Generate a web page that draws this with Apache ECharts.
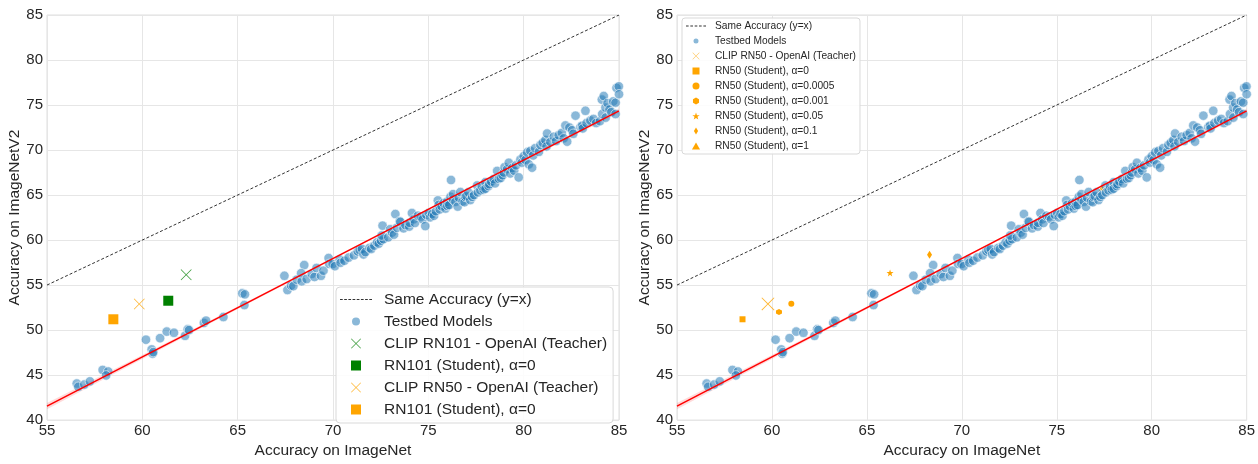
<!DOCTYPE html>
<html>
<head>
<meta charset="utf-8">
<script src="https://cdn.jsdelivr.net/npm/echarts@6/dist/echarts.min.js"></script>
<style>
  html, body { margin: 0; padding: 0; background: #fff; }
  #chart { width: 1258px; height: 464px; }
</style>
</head>
<body>
<div id="chart"></div>
<script>
// ---- data ----
const identityLine = [[55, 55], [85, 85]];
const fitLine = [[55, 41.55], [85, 74.35]];
const bandX = [55, 60, 65, 70, 75, 80, 85];
const bandLow = [41.2, 46.8, 52.35, 57.85, 63.35, 68.78, 74.1];
const bandHigh = [41.9, 47.24, 52.63, 58.07, 63.51, 69.02, 74.6];

// testbed models (ImageNet acc, ImageNetV2 acc)
const testbed = [
  [56.56,44.06],[56.64,43.7],[56.96,43.95],[57.25,44.3],[57.92,45.57],[58.21,45.4],[58.1,44.96],
  [60.19,48.93],[60.49,47.85],[60.54,47.37],[60.57,47.55],[60.93,49.1],[61.28,49.83],[61.66,49.7],
  [62.24,49.36],[62.38,50.08],[62.45,50.0],[63.23,50.8],[63.34,51.05],[64.25,51.45],
  [65.24,54.08],[65.38,53.97],[65.35,52.78],
  [67.45,56.03],[67.61,54.45],[67.8,54.95],[67.92,54.88],[68.1,55.6],[68.36,55.42],[68.49,57.22],[68.33,56.32],
  [68.62,55.67],[68.89,56.24],[69.03,55.9],[69.14,56.9],[69.37,56.03],[69.5,56.6],[69.77,58.0],[69.8,57.35],
  [69.98,57.33],[70.1,57.1],[70.35,57.84],[70.4,57.48],[70.6,57.7],[70.82,58.05],[71.1,58.3],[71.3,58.74],
  [71.4,58.9],[71.52,59.02],[71.6,58.4],[71.7,58.66],[71.92,59.13],[72.0,59.0],[72.17,59.38],[72.31,59.75],
  [72.4,59.6],[72.52,59.93],[72.65,60.1],[72.6,61.6],[72.55,60.5],[72.9,60.3],
  [73.0,61.2],[73.1,60.83],[73.2,60.6],[73.27,62.89],[73.36,61.37],[73.5,62.09],[73.53,62.02],[73.7,61.3],
  [73.8,61.66],[74.0,61.5],[74.02,61.92],[74.14,63.0],[74.23,62.3],[74.3,61.9],[74.45,62.7],[74.6,62.6],
  [74.7,62.3],[74.84,61.55],[74.9,62.8],[75.02,63.0],[75.1,62.52],[75.2,62.9],[75.3,62.7],[75.4,63.2],
  [75.5,64.4],[75.54,63.9],[75.6,63.4],[75.7,63.75],[75.8,64.1],[75.9,63.5],[75.98,64.25],[76.0,63.8],
  [76.1,63.9],[76.16,64.8],[76.19,66.67],[76.3,64.5],[76.3,65.1],[76.42,64.25],[76.54,63.72],[76.6,64.7],
  [76.68,65.33],[76.8,64.3],[76.9,64.2],[76.94,64.8],[77.0,64.9],[77.1,65.3],[77.2,64.44],[77.3,64.8],
  [77.4,65.0],[77.56,66.06],[77.6,65.3],[77.73,65.52],[77.8,66.0],[77.9,65.6],[77.99,66.42],[78.0,65.7],
  [78.16,66.0],[78.2,66.2],[78.3,66.5],[78.43,66.78],[78.5,66.3],[78.61,67.68],[78.7,66.8],[78.8,66.9],
  [78.9,67.2],[78.96,67.5],[79.0,68.1],[79.13,67.87],[79.22,68.58],[79.3,67.4],[79.4,68.0],[79.5,67.7],
  [79.6,68.3],[79.74,66.96],[79.83,68.95],[79.9,68.6],[80.0,69.31],[80.1,68.9],[80.18,69.74],
  [80.27,68.41],[80.35,69.9],[80.44,68.04],[80.5,69.4],[80.6,70.2],[80.8,69.8],[80.88,70.57],[81.0,70.8],
  [81.14,71.11],[81.2,70.4],[81.23,71.83],[81.4,70.9],[81.58,71.47],[81.7,71.0],[81.84,71.65],[82.0,71.9],
  [82.1,71.3],[82.19,72.73],[82.28,70.93],[82.4,72.5],[82.54,72.2],[82.6,71.8],[82.72,73.82],[82.98,72.55],
  [83.07,72.7],[83.1,72.4],[83.24,74.36],[83.3,73.0],[83.5,73.27],[83.66,73.45],[83.8,73.0],[84.0,73.2],
  [84.1,75.6],[84.12,74.0],[84.2,76.0],[84.29,74.72],[84.3,73.6],[84.4,75.2],[84.5,74.5],[84.6,74.2],
  [84.7,75.4],[84.82,75.26],[84.82,74.0],[84.87,76.9],[84.99,77.07],[85.0,76.2]
];

// left panel markers
const clipRN101 = [[62.3, 56.15]];
const rn101Student = [[61.36, 53.26]];
const clipRN50Left = [[59.84, 52.9]];
const rn101StudentOrange = [[58.48, 51.2]];

// right panel markers
const clipRN50Right = [[59.79, 52.9]];
const alpha0 = [[58.45, 51.2]];
const alpha0005 = [[61.02, 52.93]];
const alpha001 = [[60.37, 52.0]];
const alpha005 = [[66.22, 56.35]];
const alpha01 = [[68.3, 58.38]];
const alpha1 = [[77.38, 65.77]];

// ---- styling ----
const FONT = '"Liberation Sans", Arial, sans-serif';
const TXT = '#262626';
const ORANGE = '#ffa500';
const X_PATH = 'path://M1,0L10,9L19,0L20,1L11,10L20,19L19,20L10,11L1,20L0,19L9,10L0,1Z';
const STAR_PATH = 'path://M10,0L12.35,6.9L19.5,6.9L13.8,11.2L15.9,18.1L10,14L4.1,18.1L6.2,11.2L0.5,6.9L7.65,6.9Z';
const HEX_PATH = 'path://M10,0L18.66,5L18.66,15L10,20L1.34,15L1.34,5Z';
const RECT_PATH = 'path://M0,0L10,0L10,10L0,10Z';
const DIAMOND_PATH = 'path://M3,0L6,5L3,10L0,5Z';
const TRI_PATH = 'path://M5,0L10,8.66L0,8.66Z';

// dashed legend stroke: n dashes of given length/period
function dashPath(n, on, period) {
  let d = 'path://';
  for (let i = 0; i < n; i++) d += 'M' + (i * period) + ',0h' + on + 'v1h-' + on + 'z';
  return d;
}

function xAxisOpt(gi) {
  return {
    gridIndex: gi, type: 'value', min: 55, max: 85, interval: 5,
    name: 'Accuracy on ImageNet', nameLocation: 'middle', nameGap: 19,
    nameTextStyle: { color: TXT, fontFamily: FONT, fontSize: 15.5 },
    axisLine: { show: false }, axisTick: { show: false },
    axisLabel: { color: TXT, fontFamily: FONT, fontSize: 15, margin: 3 },
    splitLine: { lineStyle: { color: '#e6e6e6', width: 1 } }
  };
}

function yAxisOpt(gi) {
  return {
    gridIndex: gi, type: 'value', min: 40, max: 85, interval: 5,
    name: 'Accuracy on ImageNetV2', nameLocation: 'middle', nameGap: 22,
    nameTextStyle: { color: TXT, fontFamily: FONT, fontSize: 15.5 },
    axisLine: { show: false }, axisTick: { show: false },
    axisLabel: { color: TXT, fontFamily: FONT, fontSize: 15, margin: 4 },
    splitLine: { lineStyle: { color: '#e6e6e6', width: 1 } }
  };
}

function baseSeries(gi) {
  return [
    {
      type: 'custom', xAxisIndex: gi, yAxisIndex: gi, silent: true, z: 1,
      data: bandX.map((x, i) => [x, bandLow[i], bandHigh[i]]),
      encode: { x: 0, y: [1, 2] },
      renderItem: (params, api) => {
        if (params.dataIndex !== 0) return;
        const pts = [];
        bandX.forEach((x, i) => pts.push(api.coord([x, bandHigh[i]])));
        for (let i = bandX.length - 1; i >= 0; i--) pts.push(api.coord([bandX[i], bandLow[i]]));
        return { type: 'polygon', shape: { points: pts }, style: { fill: 'rgba(255,0,0,0.14)' } };
      }
    },
    {
      name: 'Same Accuracy (y=x)', type: 'line', xAxisIndex: gi, yAxisIndex: gi,
      data: identityLine, symbol: 'none', z: 2,
      itemStyle: { color: '#333' },
      lineStyle: { color: '#333', width: 1, type: [3, 2] }
    },
    {
      name: 'Testbed Models', type: 'scatter', xAxisIndex: gi, yAxisIndex: gi,
      data: testbed, symbol: 'circle', symbolSize: 9.5, z: 3,
      itemStyle: { color: 'rgba(31,119,180,0.52)', borderColor: '#fff', borderWidth: 0.6, opacity: 1 }
    },
    {
      type: 'line', xAxisIndex: gi, yAxisIndex: gi, data: fitLine, symbol: 'none', z: 4,
      silent: true, lineStyle: { color: '#ff0000', width: 1.5 }
    }
  ];
}

function marker(gi, name, data, symbol, size, color) {
  return {
    name: name, type: 'scatter', xAxisIndex: gi, yAxisIndex: gi, data: data,
    symbol: symbol, symbolSize: size, z: 5, itemStyle: { color: color, opacity: 1 }
  };
}

const chart = echarts.init(document.getElementById('chart'), null, { renderer: 'canvas' });
chart.setOption({
  backgroundColor: '#fff',
  animation: false,
  textStyle: { fontFamily: FONT },
  grid: [
    { left: 47, top: 15, width: 572, height: 416, show: true, borderColor: '#dedede', borderWidth: 1 },
    { left: 677, top: 15, width: 571, height: 416, show: true, borderColor: '#dedede', borderWidth: 1 }
  ],
  xAxis: [xAxisOpt(0), xAxisOpt(1)],
  yAxis: [yAxisOpt(0), yAxisOpt(1)],
  legend: [
    {
      orient: 'vertical', left: 336, top: 287,
      padding: [4, 6, 5, 4],
      itemWidth: 32, itemHeight: 10, itemGap: 5,
      backgroundColor: 'rgba(255,255,255,0.85)', borderColor: '#d9d9d9', borderWidth: 1, borderRadius: 4,
      textStyle: { color: TXT, fontFamily: FONT, fontSize: 15.5, lineHeight: 17, padding: [0, 0, 0, 7] },
      data: [
        { name: 'Same Accuracy (y=x)', icon: dashPath(8, 2.6, 4), itemStyle: { color: '#333' } },
        { name: 'Testbed Models' },
        { name: 'CLIP RN101 - OpenAI (Teacher)' },
        { name: 'RN101 (Student), α=0' },
        { name: 'CLIP RN50 - OpenAI (Teacher)' },
        { name: 'RN101 (Student), α=0 ' }
      ]
    },
    {
      orient: 'vertical', left: 682, top: 18,
      padding: [2, 4, 2, 4],
      itemWidth: 20, itemHeight: 7, itemGap: 3,
      backgroundColor: 'rgba(255,255,255,0.85)', borderColor: '#d9d9d9', borderWidth: 1, borderRadius: 3,
      textStyle: { color: TXT, fontFamily: FONT, fontSize: 10.2, lineHeight: 12, padding: [0, 0, 0, 4] },
      data: [
        { name: 'Same Accuracy (y=x)', icon: dashPath(5, 2.6, 4.3), itemStyle: { color: '#333' } },
        { name: 'Testbed Models' },
        { name: 'CLIP RN50 - OpenAI (Teacher)' },
        { name: 'RN50 (Student), α=0' },
        { name: 'RN50 (Student), α=0.0005' },
        { name: 'RN50 (Student), α=0.001' },
        { name: 'RN50 (Student), α=0.05' },
        { name: 'RN50 (Student), α=0.1' },
        { name: 'RN50 (Student), α=1' }
      ]
    }
  ],
  series: [].concat(
    baseSeries(0),
    [
      marker(0, 'CLIP RN101 - OpenAI (Teacher)', clipRN101, X_PATH, 11, '#3a9b3a'),
      marker(0, 'RN101 (Student), α=0', rn101Student, RECT_PATH, 10, '#008000'),
      marker(0, 'CLIP RN50 - OpenAI (Teacher)', clipRN50Left, X_PATH, 11, 'rgba(255,165,0,0.8)'),
      marker(0, 'RN101 (Student), α=0 ', rn101StudentOrange, RECT_PATH, 10, ORANGE)
    ],
    baseSeries(1),
    [
      marker(1, 'CLIP RN50 - OpenAI (Teacher)', clipRN50Right, X_PATH, 13, 'rgba(255,165,0,0.8)'),
      marker(1, 'RN50 (Student), α=0', alpha0, RECT_PATH, 6, ORANGE),
      marker(1, 'RN50 (Student), α=0.0005', alpha0005, 'circle', 6, ORANGE),
      marker(1, 'RN50 (Student), α=0.001', alpha001, HEX_PATH, 6, ORANGE),
      marker(1, 'RN50 (Student), α=0.05', alpha005, STAR_PATH, 7, ORANGE),
      marker(1, 'RN50 (Student), α=0.1', alpha01, DIAMOND_PATH, [5, 8], ORANGE),
      Object.assign(marker(1, 'RN50 (Student), α=1', alpha1, TRI_PATH, 6, ORANGE), { z: 2.5 })
    ]
  )
});
window.addEventListener('resize', () => chart.resize());
</script>
</body>
</html>
